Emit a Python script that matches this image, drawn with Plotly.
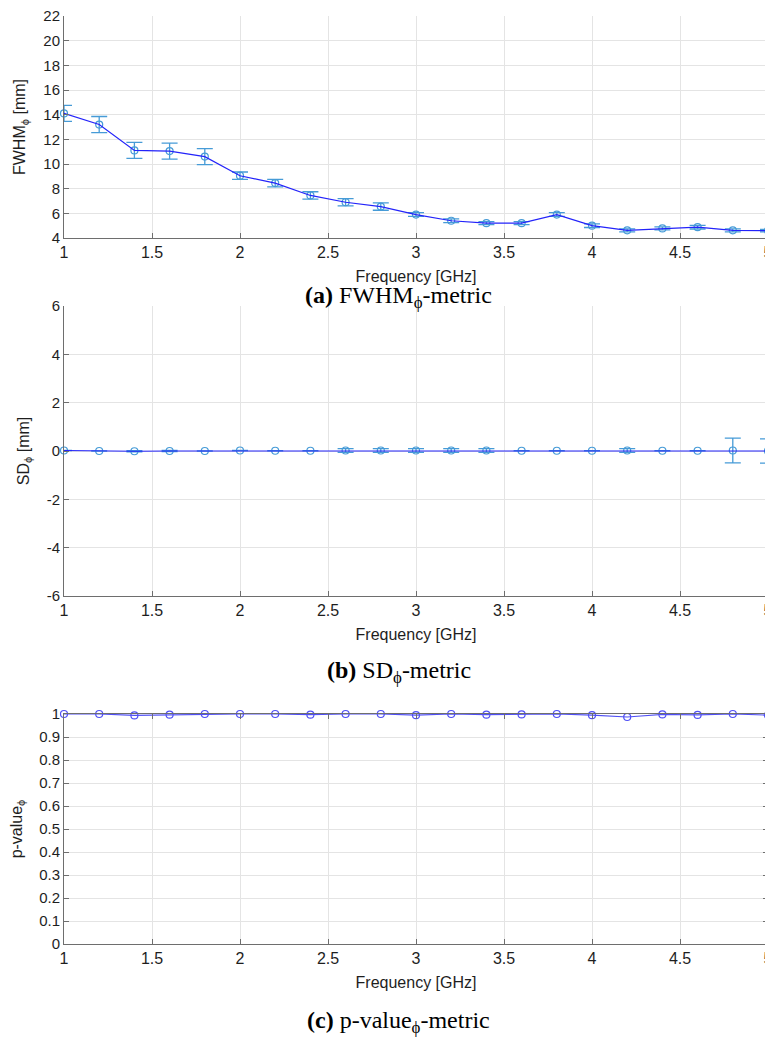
import plotly.graph_objects as go

# frequency points (GHz)
freq = [1.0, 1.2, 1.4, 1.6, 1.8, 2.0, 2.2, 2.4, 2.6, 2.8, 3.0,
        3.2, 3.4, 3.6, 3.8, 4.0, 4.2, 4.4, 4.6, 4.8, 5.0]

# (a) FWHM_phi in mm, with error bar half-lengths
fwhm = [14.1, 13.2, 11.1, 11.05, 10.6, 9.05, 8.45, 7.45, 6.9, 6.55, 5.9,
        5.4, 5.2, 5.2, 5.9, 5.0, 4.62, 4.78, 4.88, 4.62, 4.6]
fwhm_err = [0.65, 0.65, 0.65, 0.65, 0.65, 0.3, 0.3, 0.3, 0.3, 0.3, 0.15,
            0.15, 0.12, 0.12, 0.15, 0.15, 0.12, 0.12, 0.15, 0.12, 0.1]

# (b) SD_phi in mm
sd = [0.02, 0.0, -0.01, 0.0, 0.0, 0.02, 0.01, 0.01, 0.02, 0.02, 0.02,
      0.02, 0.02, 0.01, 0.01, 0.01, 0.02, 0.01, 0.01, 0.02, 0.0]
sd_err = [0.0, 0.0, 0.02, 0.02, 0.0, 0.0, 0.0, 0.0, 0.08, 0.08, 0.08,
          0.08, 0.08, 0.0, 0.0, 0.0, 0.08, 0.0, 0.0, 0.51, 0.5]

# (c) p-value_phi
pval = [1.0, 1.0, 0.994, 0.997, 1.0, 1.0, 1.0, 0.997, 1.0, 1.0, 0.995,
        1.0, 0.997, 0.998, 1.0, 0.995, 0.987, 0.998, 0.996, 1.0, 0.995]

x_ticks = [1, 1.5, 2, 2.5, 3, 3.5, 4, 4.5, 5]
x_ticktext = ["1", "1.5", "2", "2.5", "3", "3.5", "4", "4.5", "5"]
fwhm_ticks = [4, 6, 8, 10, 12, 14, 16, 18, 20, 22]
sd_ticks = [-6, -4, -2, 0, 2, 4, 6]
sd_ticktext = ["-6", "-4", "-2", "0", "2", "4", "6"]
p_ticks = [0, 0.1, 0.2, 0.3, 0.4, 0.5, 0.6, 0.7, 0.8, 0.9, 1]
p_ticktext = ["0", "0.1", "0.2", "0.3", "0.4", "0.5", "0.6", "0.7", "0.8", "0.9", "1"]

captions = ["<b>(a)</b> FWHM<sub>ϕ</sub>-metric",
            "<b>(b)</b> SD<sub>ϕ</sub>-metric",
            "<b>(c)</b> p-value<sub>ϕ</sub>-metric"]

TICK_FONT = "Liberation Sans, Arial, sans-serif"
ERR_BLUE = "rgb(70,155,215)"
LINE_BLUE = "rgb(35,35,250)"
AX_COLOR = "rgb(110,110,110)"
GRID = "rgb(228,228,228)"
TXT = "rgb(30,30,30)"

# the page body has an 8px margin, so the figure is laid out in its own
# pixel coordinates (screen position minus 8)
W, H = 765.0, 1035.0

fig = go.Figure()

# panel a
fig.add_trace(go.Scatter(
    x=freq, y=fwhm, mode="markers", cliponaxis=False,
    marker=dict(symbol="circle-open", size=7, color=ERR_BLUE, line=dict(width=1.2)),
    error_y=dict(type="data", array=fwhm_err, color=ERR_BLUE, thickness=1.3, width=8),
    xaxis="x", yaxis="y", showlegend=False))
fig.add_trace(go.Scatter(
    x=freq, y=fwhm, mode="lines", line=dict(color=LINE_BLUE, width=1.2),
    xaxis="x", yaxis="y", showlegend=False))

# panel b
fig.add_trace(go.Scatter(
    x=freq, y=sd, mode="markers", cliponaxis=False,
    marker=dict(symbol="circle-open", size=7, color=ERR_BLUE, line=dict(width=1.2)),
    error_y=dict(type="data", array=sd_err, color=ERR_BLUE, thickness=1.3, width=8),
    xaxis="x2", yaxis="y2", showlegend=False))
fig.add_trace(go.Scatter(
    x=freq, y=sd, mode="lines", line=dict(color=LINE_BLUE, width=1.2),
    xaxis="x2", yaxis="y2", showlegend=False))

# panel c
fig.add_trace(go.Scatter(
    x=freq, y=pval, mode="lines+markers", cliponaxis=False,
    line=dict(color="rgb(80,80,245)", width=1.2),
    marker=dict(symbol="circle-open", size=7, color="rgb(80,80,245)", line=dict(width=1.2)),
    xaxis="x3", yaxis="y3", showlegend=False))

xdom = [56 / W, 760 / W]


def ydom(top_px, bot_px):
    return [1 - bot_px / H, 1 - top_px / H]


def xaxis_cfg(anchor, mirror=False):
    return dict(
        domain=xdom, anchor=anchor, range=[1, 5], automargin=False,
        tickvals=x_ticks, ticktext=x_ticktext, ticklabeloverflow="allow",
        ticks="inside", ticklen=5, tickcolor=AX_COLOR,
        showline=True, linecolor=AX_COLOR, linewidth=1,
        mirror="allticks" if mirror else False,
        showgrid=True, gridcolor=GRID, zeroline=False,
        tickfont=dict(family=TICK_FONT, size=16, color=TXT),
        title=dict(text="Frequency [GHz]", standoff=10,
                   font=dict(family=TICK_FONT, size=16, color=TXT)),
    )


def yaxis_cfg(anchor, dom, rng, vals, text, title, mirror=False):
    return dict(
        domain=dom, anchor=anchor, range=rng, automargin=False,
        tickvals=vals, ticktext=text, ticklabeloverflow="allow",
        ticks="inside", ticklen=5, tickcolor=AX_COLOR,
        showline=True, linecolor=AX_COLOR, linewidth=1,
        mirror="allticks" if mirror else False,
        showgrid=True, gridcolor=GRID, zeroline=False,
        tickfont=dict(family=TICK_FONT, size=15, color=TXT),
        title=dict(text=title, standoff=13,
                   font=dict(family=TICK_FONT, size=16, color=TXT)),
    )


fig.update_layout(
    width=W, height=H,
    margin=dict(l=0, r=0, t=0, b=0),
    paper_bgcolor="white", plot_bgcolor="white",
    xaxis=xaxis_cfg("y"),
    yaxis=yaxis_cfg("x", ydom(8, 230), [4, 22], fwhm_ticks,
                    [str(v) for v in fwhm_ticks], "FWHM<sub>ϕ</sub> [mm]"),
    xaxis2=xaxis_cfg("y2"),
    yaxis2=yaxis_cfg("x2", ydom(298, 588), [-6, 6], sd_ticks, sd_ticktext,
                     "SD<sub>ϕ</sub> [mm]"),
    xaxis3=xaxis_cfg("y3", mirror=True),
    yaxis3=yaxis_cfg("x3", ydom(706, 936), [0, 1], p_ticks, p_ticktext,
                     "p-value<sub>ϕ</sub>", mirror=True),
)

cap_y = [289, 664, 1014]
for txt, yp in zip(captions, cap_y):
    fig.add_annotation(
        text=txt, x=391 / W, y=1 - yp / H, xref="paper", yref="paper",
        showarrow=False, xanchor="center", yanchor="middle",
        font=dict(family="Liberation Serif, DejaVu Serif, serif", size=24, color="black"))

fig.write_html("out.html")
